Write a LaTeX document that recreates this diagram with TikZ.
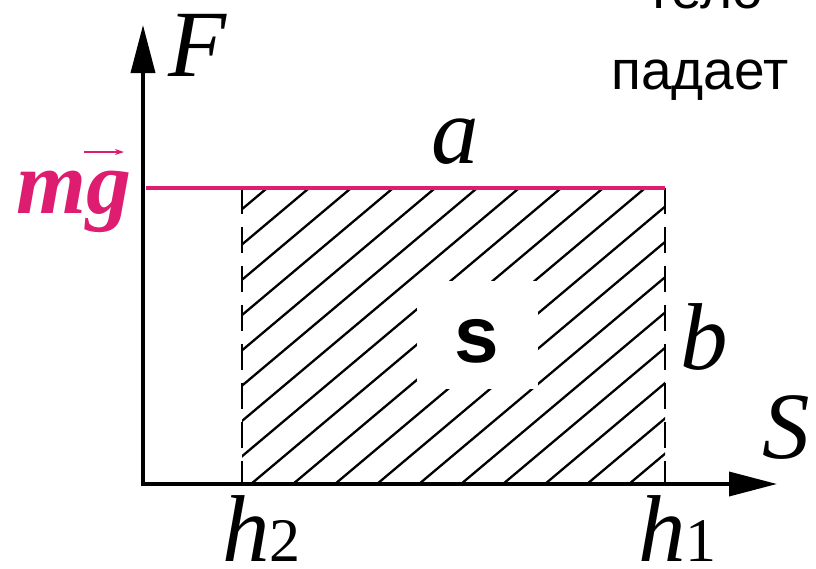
\documentclass[tikz,border=0pt]{standalone}
\usepackage{fontspec}
\setmainfont{Liberation Serif}
\newfontfamily\sansf{Liberation Sans}
\usetikzlibrary{arrows.meta}
\definecolor{pinkc}{RGB}{222,28,112}
\begin{document}
\begin{tikzpicture}[x=1pt,y=-1pt,
  axis/.style={line width=3.6pt,-{Triangle[length=48pt,width=24pt]}},
  hatchline/.style={line width=2.3pt},
  dashline/.style={line width=2.8pt,dash pattern=on 26pt off 13pt},
  biglbl/.style={font=\fontsize{95}{95}\selectfont\itshape, inner sep=0pt},
  rulbl/.style={font=\sansf\fontsize{55}{55}\selectfont, inner sep=0pt}]
\useasboundingbox (0,0) rectangle (816,568);
\fill[white] (0,0) rectangle (816,568);
% coordinates
\coordinate (O) at (143,484);
\coordinate (Ytip) at (143,25);
\coordinate (Xtip) at (777,484);
\coordinate (mgL) at (146,188);
\coordinate (aR) at (665,188);
\coordinate (h2t) at (242,188);
\coordinate (h2b) at (242,484);
\coordinate (h1t) at (665,188);
\coordinate (h1b) at (665,484);
% hatching
\begin{scope}
  \clip (h2t) rectangle (h1b);
  \foreach \k in {-1,...,18} {
    \draw[hatchline] ({-85+42*\k},484) -- ++(420,-353);
  }
\end{scope}
% dashed verticals
\draw[dashline] (h2t) -- (h2b);
\draw[dashline] (h1t) -- (h1b);
% pink line
\draw[pinkc, line width=3.8pt] (mgL) -- (aR);
% axes
\draw[axis] (143,486) -- (Ytip);
\draw[axis] (141,484) -- (Xtip);
% white box with s
\node[fill=white, minimum width=121pt, minimum height=108pt, inner sep=0pt] (sbox) at (477,335) {};
\node[font=\sansf\bfseries\fontsize{80}{80}\selectfont, inner sep=0pt] (slbl) at (477,341) {s};
% labels
\node[biglbl] (F) at (198,45) {F};
\node[biglbl, font=\fontsize{90}{90}\selectfont\bfseries\itshape, text=pinkc, anchor=base west] (mg) at (16,213) {mg};
\coordinate (vecL) at (84,152);
\coordinate (vecR) at (124,152);
\draw[pinkc, line width=1.6pt, -{Stealth[length=9pt,width=6pt]}] (vecL) -- (vecR);
\node[biglbl] (alab) at (455,142) {a};
\node[biglbl] (blab) at (704,337) {b};
\node[biglbl] (Slab) at (786,428) {S};
\node[biglbl, anchor=base west] (h2) at (222,561) {h{\fontsize{62}{62}\selectfont\upshape 2}};
\node[biglbl, anchor=base west] (h1) at (638,561) {h{\fontsize{62}{62}\selectfont\upshape 1}};
% russian text
\node[rulbl, anchor=base] (pad) at (700,89) {падает};
\begin{scope}
  \clip (0,0) rectangle (816,568);
  \node[rulbl, anchor=base] (telo) at (705,8) {тело};
\end{scope}
\end{tikzpicture}
\end{document}
